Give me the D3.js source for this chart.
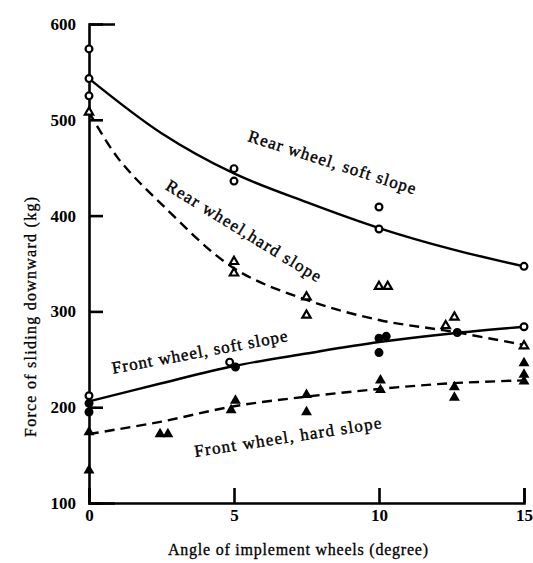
<!DOCTYPE html>
<html>
    <head>
        <meta charset="utf-8">
        <title>Force of sliding downward</title>
        <style>
            html, body {
                margin: 0px;
                padding: 0px;
                background-color: #fff;
            }

            svg text {
                font-family: "Liberation Serif", "DejaVu Serif", serif;
                fill: #000;
            }

            .axis .domain, .axis line {
                stroke: #000;
                stroke-width: 2.6px;
            }

            .axis text {
                font-size: 17px;
                font-weight: bold;
            }

            .fit {
                fill: none;
                stroke: #000;
                stroke-width: 2.4px;
            }

            .fit.dashed {
                stroke-dasharray: 10 6;
            }

            .label {
                font-size: 17px;
                stroke: #000;
                stroke-width: 0.4px;
            }

            .title {
                font-size: 16px;
                stroke: #000;
                stroke-width: 0.3px;
            }
        </style>
        <script src="https://cdn.jsdelivr.net/npm/d3@7"></script>
    </head>
    <body>
        <div id="main"></div>

        <script>
            // axis ticks
            var xTicks = [0, 5, 10, 15];
            var yTicks = [100, 200, 300, 400, 500, 600];

            // rear wheel, soft slope (open circles)
            var rearSoftX = [0, 0, 0, 5, 5, 10, 10, 15];
            var rearSoftY = [574, 543, 525, 449, 436, 409, 386, 347];
            var rearSoftFitX = [0, 2.5, 5, 7.5, 10, 12.5, 15];
            var rearSoftFitY = [543, 486, 444, 414, 387, 365, 347];

            // rear wheel, hard slope (open triangles)
            var rearHardX = [0, 5, 5, 7.5, 7.5, 10, 10.3, 12.6, 12.3, 15];
            var rearHardY = [508, 352, 340, 315, 296, 326, 326, 294, 285, 264];
            var rearHardFitX = [0, 1, 2.5, 5, 7.5, 10, 12.5, 15];
            var rearHardFitY = [508, 460, 412, 345, 312, 291, 279, 265];

            // front wheel, soft slope (circles, 1 = filled)
            var frontSoftX = [0, 0, 0, 4.85, 5.05, 10, 10.25, 10, 12.7, 15];
            var frontSoftY = [212, 204, 195, 247, 242, 272, 274, 257, 278, 284];
            var frontSoftFilled = [0, 1, 1, 0, 1, 1, 1, 1, 1, 0];
            var frontSoftFitX = [0, 2.5, 5, 7.5, 10, 12.5, 15];
            var frontSoftFitY = [206, 225, 243, 256, 268, 277, 284];

            // front wheel, hard slope (filled triangles)
            var frontHardX = [0, 0, 2.45, 2.72, 5.05, 4.9, 7.5, 7.5, 10.05, 10.05, 12.6, 12.6, 15, 15, 15];
            var frontHardY = [174, 134, 172, 172, 207, 197, 213, 195, 228, 218, 221, 210, 246, 234, 227];
            var frontHardFitX = [0, 2.5, 5, 7.5, 10, 12.5, 15];
            var frontHardFitY = [172, 185, 201, 211, 219, 225, 228];

            var seriesNames = ["Rear wheel, soft slope", "Rear wheel,hard slope",
                               "Front wheel, soft slope", "Front wheel, hard slope"];

            var width = 533;
            var height = 563;
            var margin = {top: 24, right: 9, bottom: 60, left: 89};

            function zip(xs, ys) {
                return xs.map(function(d, i) { return [d, ys[i]]; });
            }

            function chart(svg) {
                var x = d3.scaleLinear().domain([0, 15]).range([margin.left, width - margin.right]);
                var y = d3.scaleLinear().domain([100, 600]).range([height - margin.bottom, margin.top]);

                svg.append("g")
                    .attr("class", "axis")
                    .attr("transform", "translate(0," + y(100) + ")")
                    .call(d3.axisBottom(x).tickValues(xTicks).tickSizeInner(-15).tickSizeOuter(-15).tickPadding(6));

                svg.append("g")
                    .attr("class", "axis")
                    .attr("transform", "translate(" + x(0) + ",0)")
                    .call(d3.axisLeft(y).tickValues(yTicks).tickSizeInner(-14).tickSizeOuter(-26).tickPadding(13));

                var line = d3.line()
                    .x(function(d) { return x(d[0]); })
                    .y(function(d) { return y(d[1]); })
                    .curve(d3.curveCatmullRom.alpha(0.5));

                svg.append("path").attr("class", "fit").attr("d", line(zip(rearSoftFitX, rearSoftFitY)));
                svg.append("path").attr("class", "fit dashed").attr("d", line(zip(rearHardFitX, rearHardFitY)));
                svg.append("path").attr("class", "fit").attr("d", line(zip(frontSoftFitX, frontSoftFitY)));
                svg.append("path").attr("class", "fit dashed").attr("d", line(zip(frontHardFitX, frontHardFitY)));

                var triOpen = d3.symbol().type(d3.symbolTriangle).size(30);
                var triFull = d3.symbol().type(d3.symbolTriangle).size(52);

                svg.append("g").selectAll("circle")
                    .data(zip(rearSoftX, rearSoftY))
                    .enter().append("circle")
                    .attr("cx", function(d) { return x(d[0]); })
                    .attr("cy", function(d) { return y(d[1]); })
                    .attr("r", 3.4)
                    .attr("fill", "#fff")
                    .attr("stroke", "#000")
                    .attr("stroke-width", 2.2);

                svg.append("g").selectAll("circle")
                    .data(zip(frontSoftX, frontSoftY))
                    .enter().append("circle")
                    .attr("cx", function(d) { return x(d[0]); })
                    .attr("cy", function(d) { return y(d[1]); })
                    .attr("r", 3.4)
                    .attr("fill", function(d, i) { return frontSoftFilled[i] ? "#000" : "#fff"; })
                    .attr("stroke", "#000")
                    .attr("stroke-width", 2.2);

                svg.append("g").selectAll("path")
                    .data(zip(rearHardX, rearHardY))
                    .enter().append("path")
                    .attr("transform", function(d) { return "translate(" + x(d[0]) + "," + y(d[1]) + ")"; })
                    .attr("d", triOpen)
                    .attr("fill", "#fff")
                    .attr("stroke", "#000")
                    .attr("stroke-width", 2.2);

                svg.append("g").selectAll("path")
                    .data(zip(frontHardX, frontHardY))
                    .enter().append("path")
                    .attr("transform", function(d) { return "translate(" + x(d[0]) + "," + y(d[1]) + ")"; })
                    .attr("d", triFull)
                    .attr("fill", "#000");

                // curve labels: start point (data units), angle, length
                var labels = [
                    {text: seriesNames[0], at: [5.45, 478], angle: 17.8, len: 175},
                    {text: seriesNames[1], at: [2.6, 428], angle: 31.6, len: 179},
                    {text: seriesNames[2], at: [0.83, 235], angle: -10.5, len: 178},
                    {text: seriesNames[3], at: [3.66, 148], angle: -8.8, len: 189}
                ];

                svg.append("g").selectAll("text")
                    .data(labels)
                    .enter().append("text")
                    .attr("class", "label")
                    .attr("transform", function(d) {
                        return "translate(" + x(d.at[0]) + "," + y(d.at[1]) + ") rotate(" + d.angle + ")";
                    })
                    .attr("textLength", function(d) { return d.len; })
                    .attr("lengthAdjust", "spacing")
                    .text(function(d) { return d.text; });

                svg.append("text")
                    .attr("class", "title")
                    .attr("x", 298)
                    .attr("y", 555)
                    .attr("text-anchor", "middle")
                    .attr("textLength", 260)
                    .text("Angle of implement wheels (degree)");

                svg.append("text")
                    .attr("class", "title")
                    .attr("transform", "translate(36,317) rotate(-90)")
                    .attr("text-anchor", "middle")
                    .attr("textLength", 240)
                    .text("Force of sliding downward (kg)");
            }

            function main() {
                var svg = d3.select("#main")
                            .append("svg")
                            .attr("width", width)
                            .attr("height", height);
                chart(svg);
            }

            main();
        </script>
    </body>
</html>
